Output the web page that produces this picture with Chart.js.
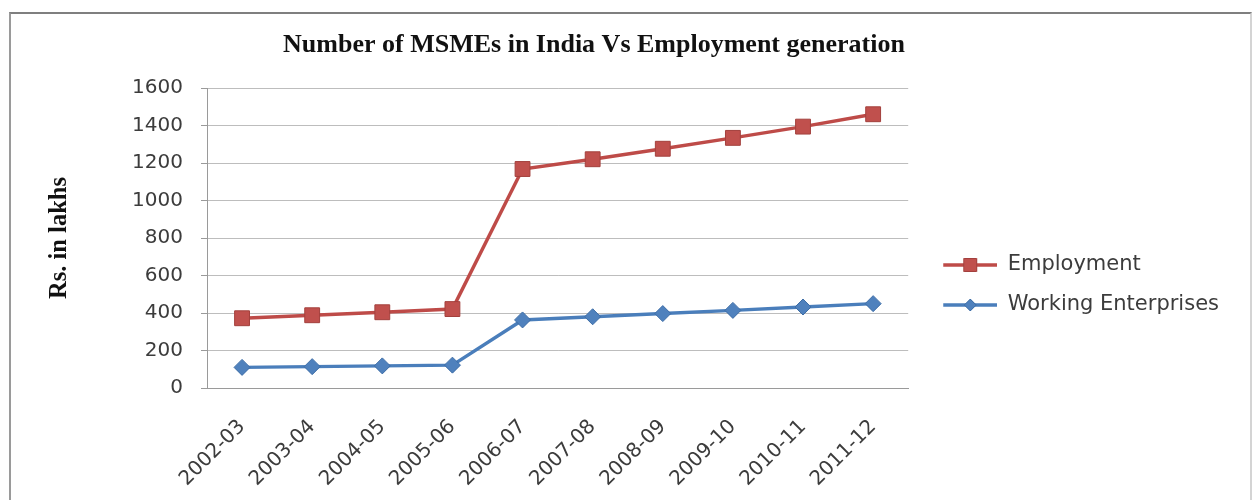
<!DOCTYPE html>
<html><head><meta charset="utf-8">
<script src="https://cdn.jsdelivr.net/npm/chart.js@4.4.1/dist/chart.umd.min.js"></script>
<style>
html,body{margin:0;padding:0;background:#fff;overflow:hidden;width:1253px;height:500px;}
#frame{position:absolute;left:9px;top:12px;width:1239px;height:600px;border-top:2px solid #7f7f7f;border-left:2px solid #9a9a9a;border-right:2px solid #d4d4d4;box-sizing:content-box;}
#wrap{position:absolute;top:0;}
canvas{display:block;}
</style></head><body>
<div id="frame"></div>
<div id="wrap"><canvas id="c"></canvas></div>
<script>
// ---- data ----
const categories = ['2002-03','2003-04','2004-05','2005-06','2006-07','2007-08','2008-09','2009-10','2010-11','2011-12'];
const employment = [372, 388, 404, 421, 1168, 1220, 1276, 1334, 1394, 1460];
const workingEnterprises = [110, 114, 118, 122, 363, 380, 397, 414, 432, 450];
const seriesNames = ['Employment', 'Working Enterprises'];
const yMin = 0, yMax = 1600, yStep = 200;
const chartTitle = 'Number of MSMEs in India Vs Employment generation';
const yAxisTitle = 'Rs. in lakhs';

// ---- layout (page px) ----
const PLOT = {left:207, right:908, top:88, bottom:388};
const TITLE_CY = 45, TITLE_CX = 594, TITLE_FS = 26;
const YTITLE_CX = 60, YTITLE_FS = 24.5;
const LEG_FS = 21, LEG_ROW1 = 265, LEG_GAP = 40, LEG_ICON_W = 70, LEG_ICON_PAD = 16;
const TICK_FS = 20;
const H = 500;

const RED = '#BE4B48', RED_FILL = '#C0504D', RED_EDGE = '#A3403D';
const BLUE = '#4A7EBB', BLUE_FILL = '#4F81BD', BLUE_EDGE = '#3D6DA6';

// measure legend text
const mctx = document.createElement('canvas').getContext('2d');
mctx.font = LEG_FS + 'px "DejaVu Sans"';
const tw = Math.max(...seriesNames.map(s => mctx.measureText(s).width));
const legPad = LEG_GAP - LEG_FS;
const legendWidth = legPad + LEG_ICON_W + LEG_FS/2 + tw + 10;
const O = Math.round(legendWidth - (2*TITLE_CX - PLOT.right)); // canvas x = page x + O
const W = 2*TITLE_CX + 2*O;

const wrap = document.getElementById('wrap');
wrap.style.left = (-O) + 'px';
const cv = document.getElementById('c');
cv.width = W; cv.height = H;
cv.style.width = W + 'px'; cv.style.height = H + 'px';

function makeIcon(color, fill, edge, shape) {
  const c = document.createElement('canvas');
  c.width = LEG_ICON_W; c.height = 20;
  const g = c.getContext('2d');
  g.strokeStyle = color; g.lineWidth = 3.5;
  g.beginPath(); g.moveTo(LEG_ICON_PAD, 10); g.lineTo(LEG_ICON_W, 10); g.stroke();
  const cx = (LEG_ICON_PAD + LEG_ICON_W)/2;
  g.fillStyle = fill; g.strokeStyle = edge; g.lineWidth = 1;
  g.beginPath();
  if (shape === 'rect') { g.rect(cx-6.5, 10-6.5, 13, 13); }
  else { g.moveTo(cx-6, 10); g.lineTo(cx, 4); g.lineTo(cx+6, 10); g.lineTo(cx, 16); g.closePath(); }
  g.fill(); g.stroke();
  return c;
}
const icons = [makeIcon(RED, RED_FILL, RED_EDGE, 'rect'), makeIcon(BLUE, BLUE_FILL, BLUE_EDGE, 'diamond')];

const titleLH = TITLE_FS * 1.2;
const titlePadTop = TITLE_CY - titleLH/2;
const titlePadBottom = PLOT.top - titlePadTop - titleLH;
const ytLH = YTITLE_FS * 1.2;
const colH = 2 * (LEG_FS + legPad);
const legTitleH = 2*(LEG_ROW1 - LEG_FS/2) - (legPad + H - colH);
const legTitleLH = 12;

new Chart(cv, {
  type: 'line',
  data: {
    labels: categories,
    datasets: [
      { label: seriesNames[0], data: employment, borderColor: RED, backgroundColor: RED_FILL,
        borderWidth: 3.5, pointStyle: 'rect', pointRadius: 10.5, pointBackgroundColor: RED_FILL,
        pointBorderColor: RED_EDGE, pointBorderWidth: 1, tension: 0, fill: false },
      { label: seriesNames[1], data: workingEnterprises, borderColor: BLUE, backgroundColor: BLUE_FILL,
        borderWidth: 3.5, pointStyle: 'rectRot', pointRadius: 8, pointBackgroundColor: BLUE_FILL,
        pointBorderColor: BLUE_EDGE, pointBorderWidth: 1, tension: 0, fill: false }
    ]
  },
  options: {
    responsive: false, animation: false, devicePixelRatio: 1,
    events: [],
    layout: { padding: 0 },
    plugins: {
      tooltip: { enabled: false },
      title: {
        display: true, text: chartTitle, color: '#111',
        font: { family: '"Liberation Serif", "Times New Roman", serif', size: TITLE_FS, weight: 'bold', lineHeight: 1.2 },
        padding: { top: titlePadTop, bottom: titlePadBottom }
      },
      legend: {
        display: true, position: 'right', align: 'center', maxWidth: 1000,
        title: { display: true, text: ' ', font: { size: 10, lineHeight: legTitleLH/10 }, padding: { top: 0, bottom: legTitleH - legTitleLH } },
        labels: {
          usePointStyle: true, pointStyleWidth: LEG_ICON_W, padding: legPad,
          color: '#3c3c3c', font: { family: '"DejaVu Sans"', size: LEG_FS },
          generateLabels(chart) {
            const items = Chart.defaults.plugins.legend.labels.generateLabels(chart);
            items.forEach((it) => { it.pointStyle = icons[it.datasetIndex]; it.fontColor = '#3c3c3c'; });
            return items;
          }
        }
      }
    },
    scales: {
      x: {
        type: 'category', offset: true,
        grid: { display: false, drawTicks: false },
        border: { display: true, color: '#9a9a9a', width: 1 },
        ticks: { autoSkip: false, maxRotation: 45, minRotation: 45, padding: 27, color: '#3c3c3c',
                 font: { family: '"DejaVu Sans"', size: TICK_FS } },
        afterFit(s) { s.height = H - PLOT.bottom; }
      },
      y: {
        min: yMin, max: yMax,
        grid: { color: '#bdbdbd', lineWidth: 1, tickLength: 6, tickColor: '#9a9a9a' },
        border: { display: true, color: '#9a9a9a', width: 1 },
        ticks: { stepSize: yStep, padding: 18, color: '#3c3c3c', font: { family: '"DejaVu Sans"', size: TICK_FS },
                 callback: (v) => String(v) },
        title: { display: true, text: yAxisTitle, color: '#111',
                 font: { family: '"Liberation Serif", "Times New Roman", serif', size: YTITLE_FS, weight: 'bold', lineHeight: 1.2 },
                 padding: { top: YTITLE_CX + O - ytLH/2, bottom: 0 } },
        afterFit(s) { s.width = PLOT.left + O; }
      }
    }
  }
});
</script>
</body></html>
